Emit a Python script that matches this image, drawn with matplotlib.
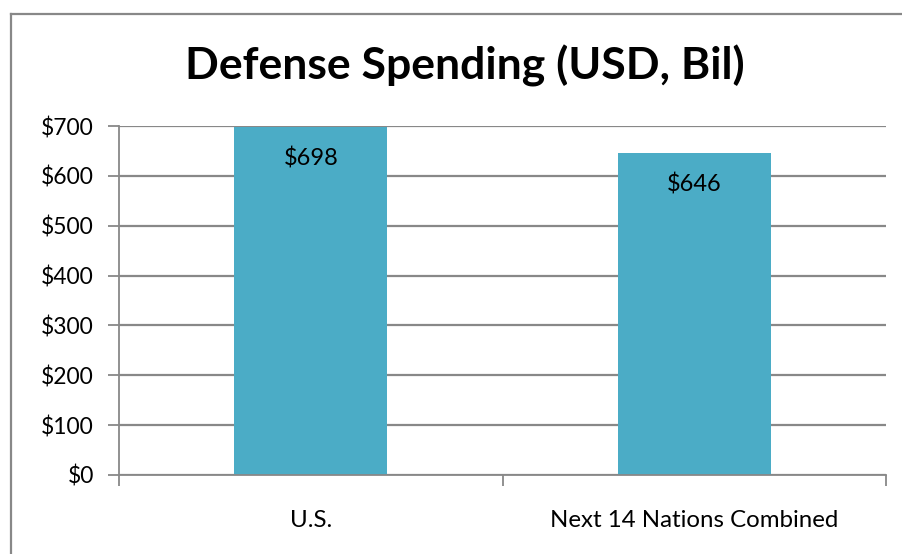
import matplotlib
matplotlib.use("Agg")
import matplotlib.pyplot as plt
from matplotlib.lines import Line2D

categories = ["U.S.", "Next 14 Nations Combined"]
values = [698, 646]
value_labels = ["$698", "$646"]
yticks = [0, 100, 200, 300, 400, 500, 600, 700]
ytick_labels = ["$0", "$100", "$200", "$300", "$400", "$500", "$600", "$700"]
title = "Defense Spending (USD, Bil)"

plt.rcParams['font.family'] = ['Lato', 'DejaVu Sans']

fig = plt.figure(figsize=(9.02, 5.54), dpi=100)
ax = fig.add_axes([119/902, 1-475/554, (886-119)/902, (475-126)/554])

grid_c = "#888888"
x = range(len(categories))
ax.bar(x, values, width=0.4, color="#4BACC6", zorder=3)
ax.set_xlim(-0.5, len(categories)-0.5)
ax.set_ylim(0, 700)
ax.set_yticks(yticks)
ax.set_yticklabels(ytick_labels, fontsize=16.5)
ax.set_xticks([i - 0.5 for i in range(len(categories)+1)], minor=False)
ax.set_xticklabels([])
ax.set_xticks(list(x), minor=True)
ax.set_xticklabels(categories, minor=True, fontsize=17.3)
ax.tick_params(axis='x', which='minor', length=0, pad=25)
ax.tick_params(axis='x', which='major', length=8, color=grid_c, width=1.3, direction='out')
ax.tick_params(axis='y', length=8, color=grid_c, width=1.3, pad=10)
ax.yaxis.grid(True, color=grid_c, linewidth=1.6, zorder=0)
ax.set_axisbelow(True)
for s in ['top', 'right']:
    ax.spines[s].set_visible(False)
for s in ['left', 'bottom']:
    ax.spines[s].set_color(grid_c)
    ax.spines[s].set_linewidth(1.3)
ax.spines['bottom'].set_zorder(4)

for i, (v, lab) in enumerate(zip(values, value_labels)):
    ax.annotate(lab, (i, v), xytext=(0, -23), textcoords='offset points',
                ha='center', va='center', fontsize=17, zorder=5)

fig.text(465/902, 1-66/554, title, ha='center', va='center', fontsize=32, fontweight='bold')

fig.add_artist(Line2D([11/902, 11/902], [0, 1-14/554], transform=fig.transFigure, color="#888888", linewidth=1.6))
fig.add_artist(Line2D([11/902, 1], [1-14/554, 1-14/554], transform=fig.transFigure, color="#888888", linewidth=1.6))

fig.savefig("out.png", dpi=100)
